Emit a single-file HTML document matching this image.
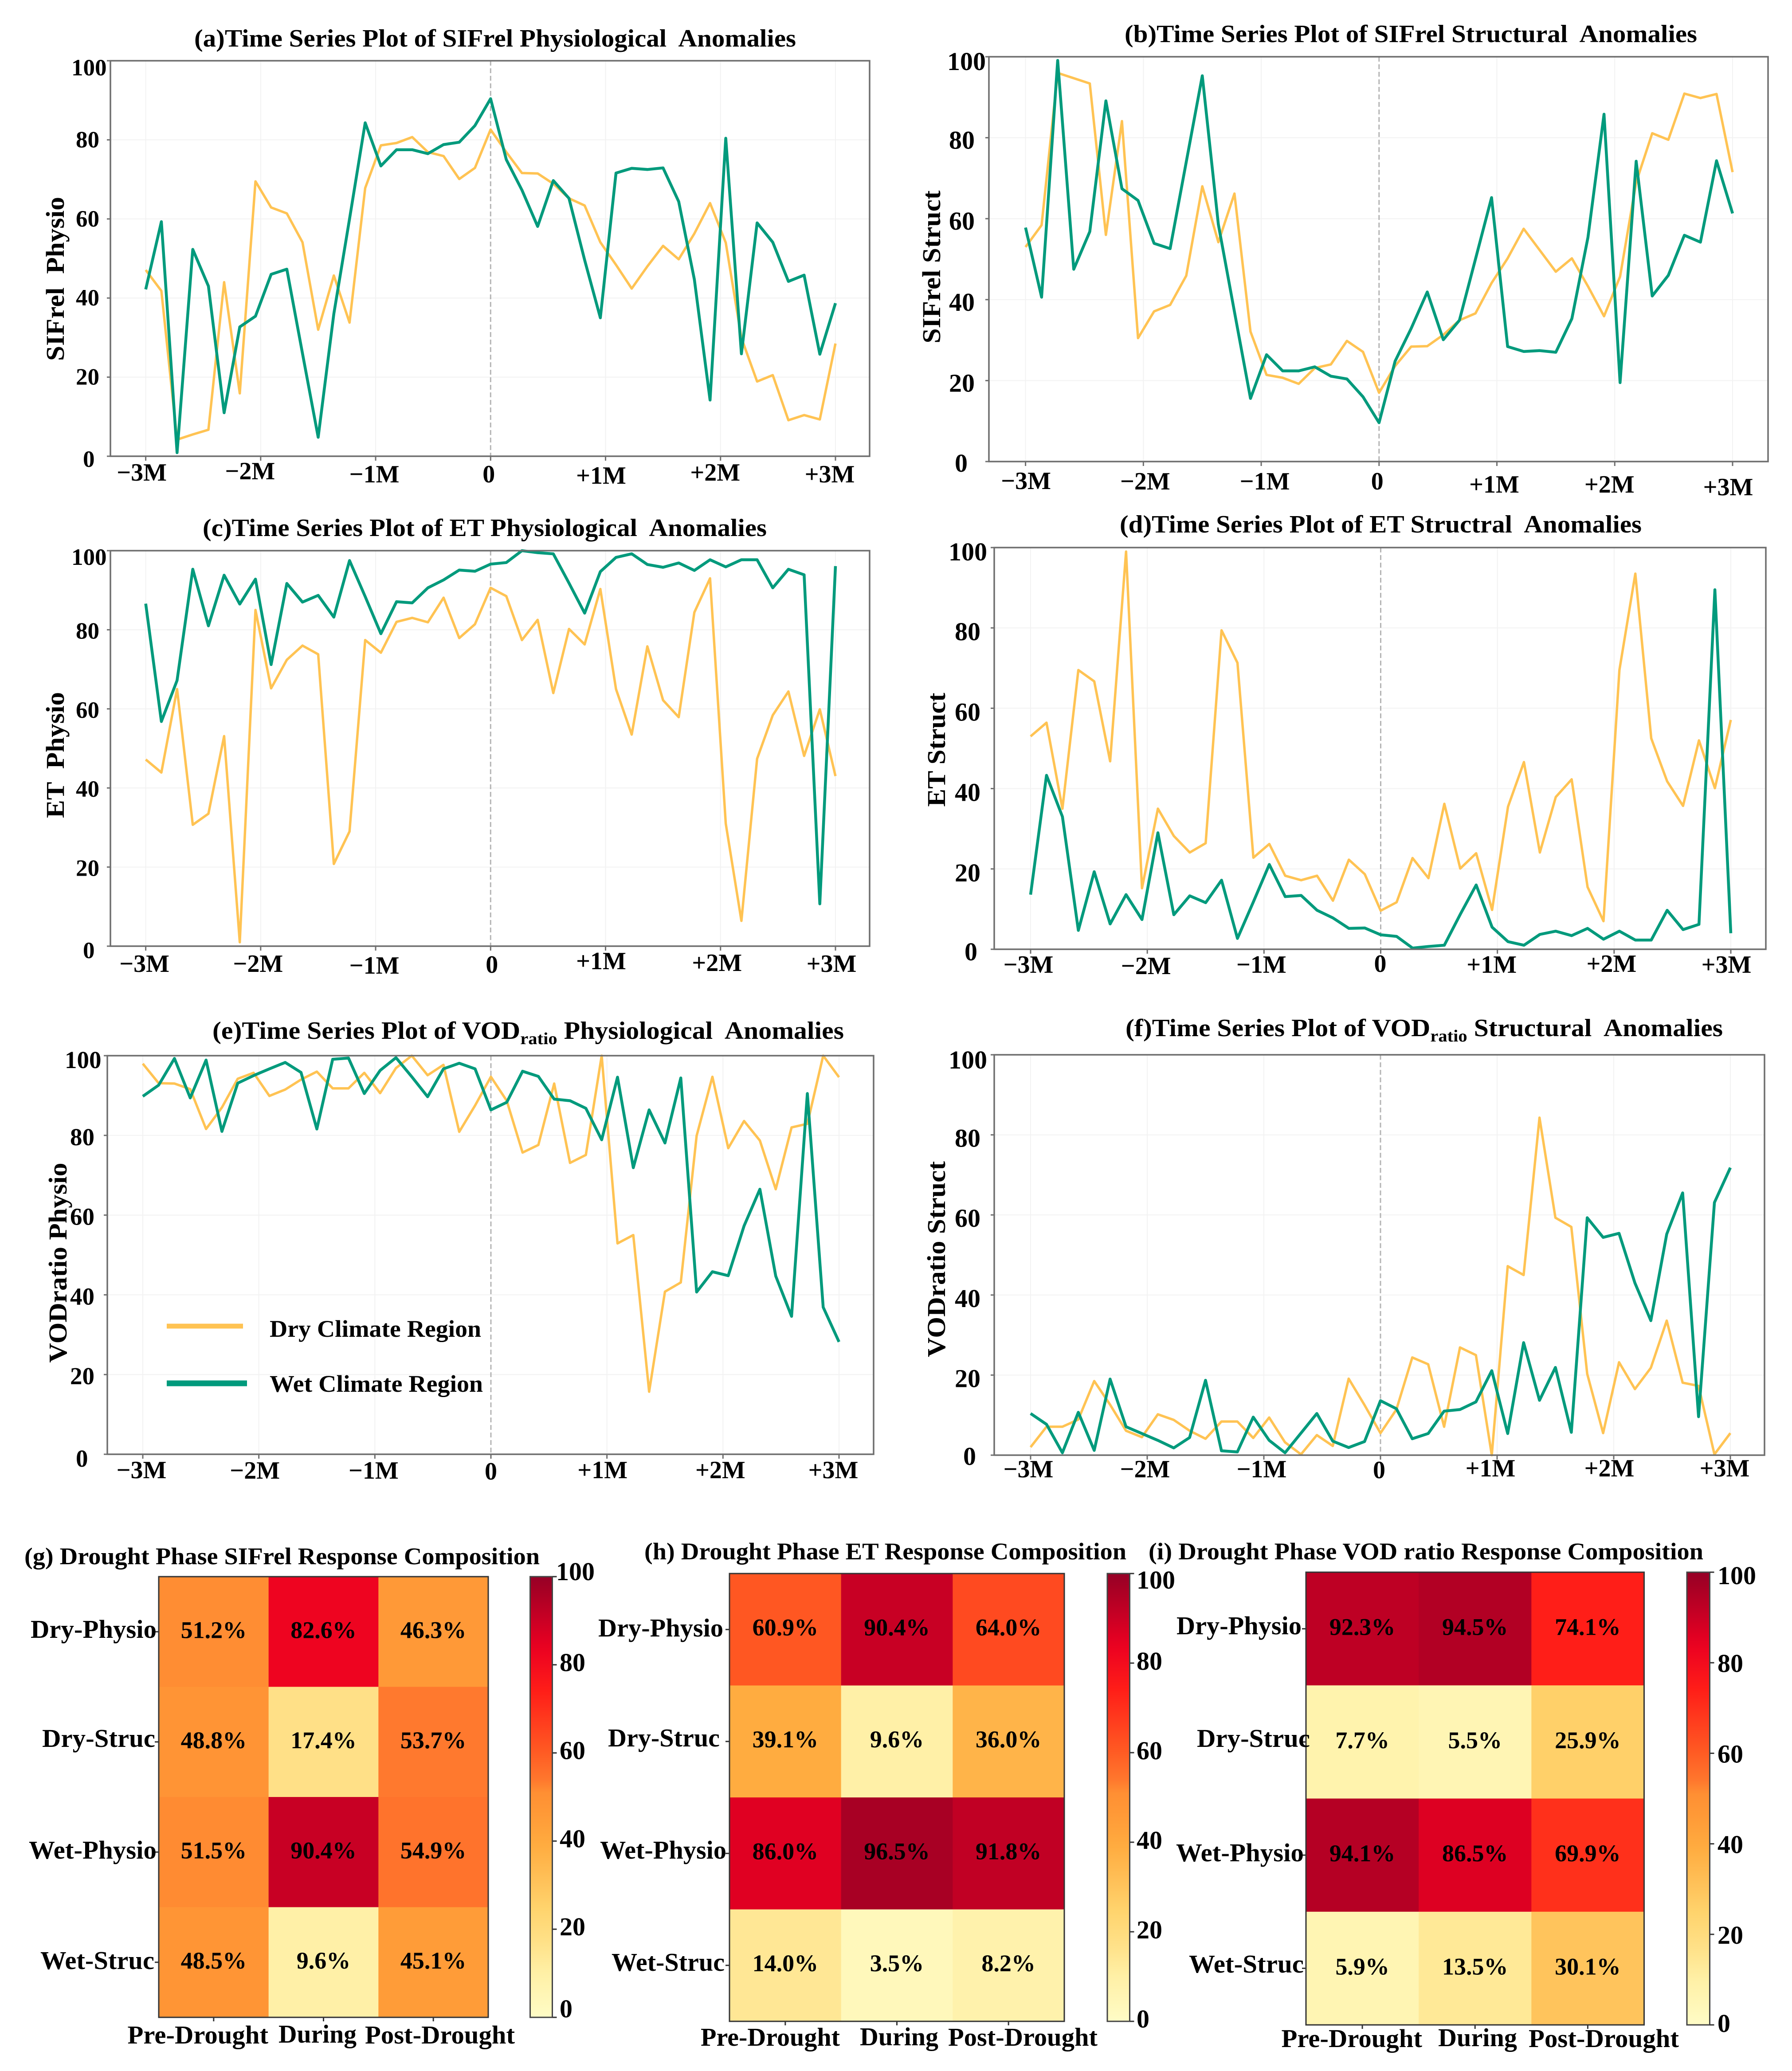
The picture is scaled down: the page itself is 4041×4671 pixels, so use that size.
<!DOCTYPE html>
<html lang="en">
<head>
<meta charset="utf-8">
<title>Drought response time series and composition</title>
<style>
html,body{margin:0;padding:0;background:#fff;}
svg{display:block;}
text{font-family:"Liberation Serif","Times New Roman",serif;font-weight:bold;fill:#000;white-space:pre;}
</style>
</head>
<body>
<svg id="figure" xmlns="http://www.w3.org/2000/svg" width="4041" height="4671" viewBox="0 0 4041 4671">
<rect x="0" y="0" width="4041" height="4671" fill="#ffffff"></rect>
<defs id="defs"></defs>
</svg>
<script>
const xTickValues = [-3, -2, -1, 0, 1, 2, 3];
const xTickLabels = ['\u22123M', '\u22122M', '\u22121M', '0', '+1M', '+2M', '+3M'];
const yTickValues = [0, 20, 40, 60, 80, 100];
const phaseLabels = ['Pre-Drought', 'During', 'Post-Drought'];
const rowLabels = ['Dry-Physio', 'Dry-Struc', 'Wet-Physio', 'Wet-Struc'];
const colorbarTicks = [0, 20, 40, 60, 80, 100];

const aDry = [47.1,41.8,4.2,5.5,6.7,44,15.9,69.5,62.9,61.4,54.1,32,45.7,33.8,67.8,78.6,79.2,80.7,76.9,75.9,70.1,72.9,82.6,76.9,71.6,71.5,68.9,65.2,63.4,54.1,48.4,42.4,48,53.2,49.8,56.3,64,54,29.9,18.9,20.5,9.1,10.4,9.3,28.5];
const aWet = [42.2,59.3,0.9,52.3,43,11,32.7,35.4,46,47.3,26,4.8,36,60,84.3,73.4,77.5,77.5,76.5,78.8,79.4,83.6,90.4,75,67.3,58.1,69.7,65.2,49.6,35,71.6,72.8,72.5,72.9,64.4,44.7,14.2,80.4,25.9,59,54.1,44.2,45.8,25.8,38.7];
const bDry = [53,58.4,96,94.7,93.4,56,84.1,30.5,37.1,38.7,45.9,68,54.2,66.2,32.1,21.4,20.7,19.2,23.1,24,29.8,27.1,17,23.6,28.4,28.5,31.3,34.9,36.6,44.1,50.2,57.5,52.2,46.9,50.2,43.3,35.9,45.7,69,81.1,79.5,90.9,89.8,90.8,71.5];
const bWet = [57.8,40.6,99.1,47.5,56.8,89.1,67.4,64.5,53.9,52.6,74,95.3,58.6,37,15.6,26.4,22.4,22.4,23.4,21.1,20.4,16,9.6,24.8,32.9,41.9,30.1,34.9,50,65.2,28.4,27.2,27.4,27,35.3,55.4,85.8,19.5,74.2,40.9,46,55.9,54.2,74.3,61.3];
const cDry = [47.2,43.9,65,30.7,33.5,53.1,1,85,65.2,72.4,76,73.8,20.8,29,77.4,74.2,82,83,81.9,88.1,77.9,81.4,90.6,88.5,77.4,82.5,64,80.2,76.3,90.3,65,53.5,75.8,62.2,57.9,84.4,93,31,6.4,47.4,58.4,64.4,48.1,59.9,43];
const cWet = [86.6,56.8,67.2,95.3,81,93.8,86.5,92.8,71.2,91.7,87,88.7,83.2,97.5,88.4,79,87.1,86.8,90.6,92.6,95.1,94.8,96.6,97,100,99.5,99.2,91.8,84.2,94.7,98.3,99.2,96.5,95.8,96.9,95,97.7,95.9,97.7,97.7,90.6,95.3,93.9,10.7,96.1];
const dDry = [53,56.4,35,69.5,66.7,46.8,99,15.2,35,28.2,24.1,26.4,79.4,71.3,22.8,26.2,18.3,17.2,18.3,12.1,22.3,18.7,9.6,11.7,22.7,17.7,36.2,20.1,23.9,9.8,35.5,46.6,24.1,37.9,42.3,15.5,7,69.5,93.5,52.5,41.8,35.7,52,40.1,57.1];
const dWet = [13.6,43.3,33,4.7,19.3,6.3,13.6,7.4,29,8.6,13.3,11.6,17.2,2.7,11.8,21.1,13.1,13.4,9.7,7.8,5.2,5.3,3.6,3.2,0.3,0.7,1,8.7,16,5.5,1.9,1,3.7,4.5,3.4,5.2,2.5,4.5,2.3,2.3,9.7,4.9,6.2,89.5,4];
const eDry = [98,93.1,93,91.6,81.6,87,94.2,95.7,89.9,91.5,94,96,91.8,91.8,95.7,90.6,96.9,100,95.1,97.7,80.9,87.5,94.7,88.7,75.7,77.6,93,73.1,75.1,100,52.9,55,15.7,40.8,43.1,79.9,94.7,76.8,83.6,78.7,66.5,82,82.9,100,94.6];
const eWet = [89.8,92.6,99.3,89.4,98.9,81,93.1,95,96.7,98.3,95.8,81.6,99.1,99.4,90.5,96.3,99.5,94.7,89.7,96.7,98.1,96.7,86.4,88.3,96.1,94.8,89.1,88.7,86.8,78.9,94.6,71.9,86.4,78.1,94.4,40.7,45.8,44.8,57.3,66.5,44.7,34.6,90.5,36.9,28.2];
const fDry = [2,7.1,7.1,8.9,18.5,12.6,6.1,4.5,10.2,8.8,6.1,4.1,8.4,8.4,4.3,9.4,3.2,0.2,5,2.3,19.1,12.5,5.5,11.4,24.4,22.7,7.1,26.9,25,0,47.2,45,84.3,59.3,57,20.3,5.5,23.2,16.5,21.8,33.6,18.1,17.3,0.2,5.5];
const fWet = [10.4,7.7,0.6,10.7,1.2,19,7.1,5.4,3.7,1.8,4.4,18.7,1.1,0.8,9.5,3.7,0.6,5.5,10.4,3.5,1.9,3.4,13.6,11.6,4.1,5.4,11,11.4,13.3,21.1,5.4,28.1,13.7,21.9,5.7,59.3,54.4,55.4,43,33.6,55.2,65.5,9.6,63.1,71.8];

const gValues = [[51.2,82.6,46.3],[48.8,17.4,53.7],[51.5,90.4,54.9],[48.5,9.6,45.1]];
const hValues = [[60.9,90.4,64.0],[39.1,9.6,36.0],[86.0,96.5,91.8],[14.0,3.5,8.2]];
const iValues = [[92.3,94.5,74.1],[7.7,5.5,25.9],[94.1,86.5,69.9],[5.9,13.5,30.1]];

const NS = 'http://www.w3.org/2000/svg';
const svg = document.getElementById('figure');
const DRY = '#ffc353', WET = '#009a7c';

function mk(tag, attrs, parent) {
  const el = document.createElementNS(NS, tag);
  for (const k in attrs) el.setAttribute(k, attrs[k]);
  (parent || svg).appendChild(el);
  return el;
}
function txt(str, attrs, parent) {
  const el = mk('text', attrs, parent);
  el.textContent = str;
  return el;
}

/* colour scale: value -> colour */
const cmapValues = [0,10,17,25,30,39,46,51,54,61,64,74,82.6,86,90.4,96.5,100];
const cmapColors = ['#fffcc6','#fff0a6','#ffe188','#ffd36c','#ffc45c','#ffac40','#ff9a37','#ff8f33','#ff772d','#ff5722','#ff4a20','#ff1e18','#ee0420','#e00022','#c80024','#a80024','#960026'];
function hexToRgb(h) { return [1,3,5].map(function(i){ return parseInt(h.substr(i,2),16); }); }
function cmap(v) {
  const t = Math.max(0, Math.min(100, v));
  for (let i = 1; i < cmapValues.length; i++) {
    if (t <= cmapValues[i]) {
      const f = (t - cmapValues[i-1]) / (cmapValues[i] - cmapValues[i-1]);
      const a = hexToRgb(cmapColors[i-1]), b = hexToRgb(cmapColors[i]);
      return 'rgb(' + a.map(function(c, j){ return Math.round(c + (b[j]-c)*f); }).join(',') + ')';
    }
  }
  return cmapColors[cmapColors.length-1];
}

const linePanels = [
 {id:'a', title:'(a)Time Series Plot of SIFrel Physiological  Anomalies', tx:438, tw:1357, ty:105, yTitle:'SIFrel  Physio', ytx:144, ytc:629, ytl:370, dry:aDry, wet:aWet,
  left:249, right:1961, top:137, bottom:1029, x0:328.6, x1:1884, fs:53, ylx:171, ylx100:161, ylx0:187, dy100:33, dyMid:17, dy0:24,
  xdx:[-9,-24,-3,-4,-10,-12,-13], xbase:[1084,1081,1088,1088,1091,1084,1088]},
 {id:'b', title:'(b)Time Series Plot of SIFrel Structural  Anomalies', tx:2536, tw:1291, ty:95, yTitle:'SIFrel Struct', ytx:2120, ytc:602, ytl:345, dry:bDry, wet:bWet,
  left:2230, right:3987, top:128, bottom:1041, x0:2312.6, x1:3907, fs:58, ylx:2140, ylx100:2136, ylx0:2153, dy100:30, dyMid:25, dy0:23,
  xdx:[1,4,8,-4,-6,-12,-10], xbase:[1103,1104,1104,1104,1111,1111,1117]},
 {id:'c', title:'(c)Time Series Plot of ET Physiological  Anomalies', tx:457, tw:1272, ty:1209, yTitle:'ET  Physio', ytx:144, ytc:1703, ytl:284, dry:cDry, wet:cWet,
  left:249, right:1961, top:1242, bottom:2134, x0:328.6, x1:1884, fs:53, ylx:171, ylx100:161, ylx0:187, dy100:32, dyMid:20, dy0:27,
  xdx:[-3,-6,-3,3,-10,-8,-9], xbase:[2192,2192,2196,2194,2186,2190,2192]},
 {id:'d', title:'(d)Time Series Plot of ET Structral  Anomalies', tx:2525, tw:1177, ty:1201, yTitle:'ET Struct', ytx:2131, ytc:1691, ytl:257, dry:dDry, wet:dWet,
  left:2242, right:3982, top:1235, bottom:2141, x0:2324, x1:3903, fs:58, ylx:2153, ylx100:2139, ylx0:2175, dy100:29, dyMid:28, dy0:25,
  xdx:[-5,-3,-6,-1,-13,-6,-10], xbase:[2194,2197,2194,2192,2194,2192,2194]},
 {id:'e', title:'(e)Time Series Plot of VOD|ratio| Physiological  Anomalies', tx:479, tw:1424, ty:2343, yTitle:'VODratio Physio', ytx:150, ytc:2848, ytl:451, dry:eDry, wet:eWet,
  left:242, right:1970, top:2381, bottom:3280, x0:322, x1:1892, fs:55, ylx:158, ylx100:146, ylx0:171, dy100:28, dyMid:22, dy0:28,
  xdx:[-3,-9,-3,0,-10,-6,-13], xbase:[3334,3335,3335,3337,3334,3334,3334]},
 {id:'f', title:'(f)Time Series Plot of VOD|ratio| Structural  Anomalies', tx:2538, tw:1347, ty:2337, yTitle:'VODratio Struct', ytx:2131, ytc:2840, ytl:442, dry:fDry, wet:fWet,
  left:2242, right:3979, top:2379, bottom:3282, x0:2324, x1:3902, fs:58, ylx:2153, ylx100:2139, ylx0:2172, dy100:31, dyMid:27, dy0:22,
  xdx:[-5,-5,-5,-3,-15,-10,-13], xbase:[3332,3332,3332,3334,3330,3330,3330]}
];

function drawLinePanel(p) {
  const g = mk('g', {});
  
  

  const xs = function(v){ return p.x0 + (v + 3) / 6 * (p.x1 - p.x0); };
  const ys = function(v){ return p.bottom - v / 100 * (p.bottom - p.top); };

  /* grid */
  xTickValues.forEach(function(v){
    if (v === 0) return;
    const l = mk('line', {x1:xs(v), x2:xs(v), y1:p.top, y2:p.bottom, stroke:'#f2f2f2', 'stroke-width':2}, g);
    
    
  });
  yTickValues.forEach(function(v){
    if (v === 0 || v === 100) return;
    const l = mk('line', {x1:p.left, x2:p.right, y1:ys(v), y2:ys(v), stroke:'#f2f2f2', 'stroke-width':2}, g);
    
    
  });

  /* drought onset line */
  const onset = mk('line', {x1:xs(0), x2:xs(0), y1:p.top, y2:p.bottom, stroke:'#b4b4b4', 'stroke-width':3, 'stroke-dasharray':'11 6'}, g);
  
  

  /* series */
  const toPoints = function(values){
    return values.map(function(v, i){
      return xs(-3 + 6 * i / (values.length - 1)).toFixed(1) + ',' + ys(v).toFixed(1);
    }).join(' ');
  };
  const dryLine = mk('polyline', {points:toPoints(p.dry), fill:'none', stroke:DRY, 'stroke-width':5.5, 'stroke-linejoin':'round'}, g);
  
  
  const wetLine = mk('polyline', {points:toPoints(p.wet), fill:'none', stroke:WET, 'stroke-width':6.5, 'stroke-linejoin':'round'}, g);
  
  

  /* frame */
  const frame = mk('rect', {x:p.left, y:p.top, width:p.right-p.left, height:p.bottom-p.top, fill:'none', stroke:'#6e6e6e', 'stroke-width':3.5}, g);
  
  

  /* x ticks */
  xTickValues.forEach(function(v, i){
    const t = mk('line', {x1:xs(v), x2:xs(v), y1:p.bottom, y2:p.bottom+10, stroke:'#6e6e6e', 'stroke-width':3}, g);
    
    
    const lab = txt(xTickLabels[i], {x:xs(v)+p.xdx[i], y:p.xbase[i], 'font-size':56, 'text-anchor':'middle'}, g);
    
    
  });

  /* y ticks */
  yTickValues.forEach(function(v){
    const t = mk('line', {x1:p.left-8, x2:p.left, y1:ys(v), y2:ys(v), stroke:'#6e6e6e', 'stroke-width':3}, g);
    
    
    const lx = v === 100 ? p.ylx100 : (v === 0 ? p.ylx0 : p.ylx);
    const dy = v === 100 ? p.dy100 : (v === 0 ? p.dy0 : p.dyMid);
    const lab = txt(String(v), {x:lx, y:ys(v)+dy, 'font-size':p.fs}, g);
    
    
  });

  /* title, with optional subscript between pipes */
  const titleParts = p.title.split('|');
  const title = mk('text', {x:p.tx, y:p.ty, 'font-size':56, textLength:p.tw, lengthAdjust:'spacingAndGlyphs'}, g);
  
  
  if (titleParts.length === 1) {
    title.textContent = p.title;
  } else {
    const s1 = mk('tspan', {}, title);
    s1.textContent = titleParts[0];
    const s2 = mk('tspan', {dy:12, 'font-size':38}, title);
    s2.textContent = titleParts[1];
    const s3 = mk('tspan', {dy:-12}, title);
    s3.textContent = titleParts[2];
  }

  /* y axis title */
  const yt = txt(p.yTitle, {x:0, y:0, 'font-size':58, 'text-anchor':'middle', textLength:p.ytl, lengthAdjust:'spacingAndGlyphs', transform:'translate(' + p.ytx + ',' + p.ytc + ') rotate(-90)'}, g);
  
  
}
linePanels.forEach(drawLinePanel);

/* legend */
(function(){
  const g = mk('g', {});
  
  
  const l1 = mk('line', {x1:376, x2:548, y1:2991, y2:2991, stroke:DRY, 'stroke-width':11}, g);
  
  
  const t1 = txt('Dry Climate Region', {x:608, y:3015, 'font-size':54, textLength:477, lengthAdjust:'spacingAndGlyphs'}, g);
  
  
  const l2 = mk('line', {x1:376, x2:557, y1:3120, y2:3120, stroke:WET, 'stroke-width':13}, g);
  
  
  const t2 = txt('Wet Climate Region', {x:608, y:3139, 'font-size':54, textLength:481, lengthAdjust:'spacingAndGlyphs'}, g);
  
  
})();

/* heatmaps */
const heatPanels = [
 {id:'g', title:'(g) Drought Phase SIFrel Response Composition', tx:55, tw:1162, ty:3528, values:gValues,
  left:358, right:1101, top:3556, bottom:4550, cbL:1195.5, cbR:1245.5, cbLabelX:1262, cbLabelX100:1254, cbDy:14, cbDy100:8, cbDy0:0,
  rowRight:[353,350,353,348], rowBase:[3694,3940,4192,4441], rowW:[284,255,288,257], colL:[287.5,628,823], colW:[317.5,176,338], colBase:[4609,4607,4609], cellDy:14},
 {id:'h', title:'(h) Drought Phase ET Response Composition', tx:1453, tw:1087, ty:3517, values:hValues,
  left:1645, right:2400, top:3549, bottom:4559, cbL:2497, cbR:2547.5, cbLabelX:2563, cbLabelX100:2563, cbDy:15, cbDy100:34, cbDy0:14,
  rowRight:[1631,1623,1638,1634], rowBase:[3691,3939,4192,4445], rowW:[282,252,285,255], colL:[1580,1939,2138], colW:[314,177,337], colBase:[4614,4613,4614], cellDy:13},
 {id:'i', title:'(i) Drought Phase VOD ratio Response Composition', tx:2590, tw:1251, ty:3517, values:iValues,
  left:2945, right:3707.5, top:3546, bottom:4567, cbL:3804, cbR:3855.5, cbLabelX:3873, cbLabelX100:3873, cbDy:21, cbDy100:27, cbDy0:16,
  rowRight:[2935,2954,2940,2940], rowBase:[3686,3940,4198,4449], rowW:[282,255,288,259], colL:[2889.5,3243,3447], colW:[317.5,178,339], colBase:[4617,4615,4617], cellDy:14}
];

function drawHeat(p) {
  const g = mk('g', {});
  
  
  const nRows = p.values.length, nCols = p.values[0].length;
  const cw = (p.right - p.left) / nCols, ch = (p.bottom - p.top) / nRows;

  p.values.forEach(function(row, r){
    row.forEach(function(v, c){
      const cell = mk('rect', {x:p.left+c*cw, y:p.top+r*ch, width:cw+0.5, height:ch+0.5, fill:cmap(v)}, g);
      
      
    });
  });
  p.values.forEach(function(row, r){
    row.forEach(function(v, c){
      const label = txt(v.toFixed(1) + '%', {x:p.left+(c+0.5)*cw, y:p.top+(r+0.5)*ch+p.cellDy, 'font-size':54, 'text-anchor':'middle'}, g);
      
      
    });
  });

  const frame = mk('rect', {x:p.left, y:p.top, width:p.right-p.left, height:p.bottom-p.top, fill:'none', stroke:'#333333', 'stroke-width':3}, g);
  
  

  rowLabels.forEach(function(name, r){
    const tick = mk('line', {x1:p.left-9, x2:p.left, y1:p.top+(r+0.5)*ch, y2:p.top+(r+0.5)*ch, stroke:'#333333', 'stroke-width':3}, g);
    
    
    const lab = txt(name, {x:p.rowRight[r]-p.rowW[r], y:p.rowBase[r], 'font-size':58, textLength:p.rowW[r], lengthAdjust:'spacingAndGlyphs'}, g);
    
    
  });
  phaseLabels.forEach(function(name, c){
    const tick = mk('line', {x1:p.left+(c+0.5)*cw, x2:p.left+(c+0.5)*cw, y1:p.bottom, y2:p.bottom+9, stroke:'#333333', 'stroke-width':3}, g);
    
    
    const lab = txt(name, {x:p.colL[c], y:p.colBase[c], 'font-size':58, textLength:p.colW[c], lengthAdjust:'spacingAndGlyphs'}, g);
    
    
  });

  const title = txt(p.title, {x:p.tx, y:p.ty, 'font-size':54, textLength:p.tw, lengthAdjust:'spacingAndGlyphs'}, g);
  
  

  /* colorbar */
  const gradId = 'cb-' + p.id;
  const grad = mk('linearGradient', {id:gradId, x1:0, y1:1, x2:0, y2:0}, document.getElementById('defs'));
  cmapValues.forEach(function(v, i){
    mk('stop', {offset:(v/100), 'stop-color':cmapColors[i]}, grad);
  });
  const bar = mk('rect', {x:p.cbL, y:p.top, width:p.cbR-p.cbL, height:p.bottom-p.top, fill:'url(#' + gradId + ')', stroke:'#444444', 'stroke-width':3}, g);
  
  
  colorbarTicks.forEach(function(v){
    const y = p.bottom - v / 100 * (p.bottom - p.top);
    const tick = mk('line', {x1:p.cbR, x2:p.cbR+10, y1:y, y2:y, stroke:'#333333', 'stroke-width':3}, g);
    
    
    const dy = v === 100 ? p.cbDy100 : (v === 0 ? p.cbDy0 : p.cbDy);
    const lx = v === 100 ? p.cbLabelX100 : p.cbLabelX;
    const lab = txt(String(v), {x:lx, y:y+dy, 'font-size':58}, g);
    
    
  });
}
heatPanels.forEach(drawHeat);
</script>
</body>
</html>
